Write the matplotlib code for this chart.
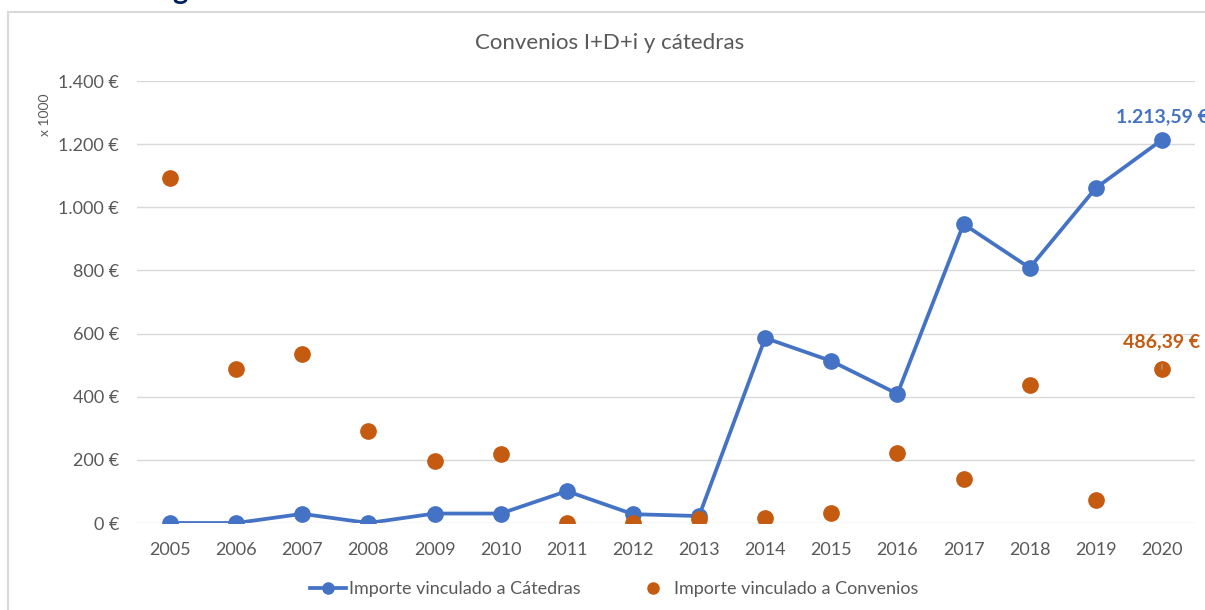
import matplotlib.pyplot as plt
from matplotlib.lines import Line2D
from matplotlib.patches import Rectangle
from matplotlib.ticker import FuncFormatter

years = list(range(2005, 2021))
catedras = [0, 0, 29, 0, 30, 30, 101, 28, 22, 586, 513, 409, 947, 808, 1061, 1213.59]
convenios = [1093, 488, 535, 291, 196, 219, 0, 0, 13, 16, 32, 222, 139, 437, 73, 486.39]

BLUE = '#4472C4'
ORANGE = '#C55A11'
GREY = '#595959'

plt.rcParams['font.family'] = ['Lato', 'DejaVu Sans']

fig = plt.figure(figsize=(12.05, 6.10), dpi=100)
ax = fig.add_axes([137 / 1205, 1 - 523 / 610, (1195 - 137) / 1205, (523 - 81) / 610])

# chart frame (partly cut by the screenshot)
fig.patches.append(Rectangle((8 / 1205, -0.05), 1.1, 1 - 12 / 610 + 0.05, transform=fig.transFigure,
                             fill=False, edgecolor='#D9D9D9', linewidth=1.5))
# descender of a heading cut off above
fig.text(172 / 1205, 1 + 1 / 610, 'g', color='#002060', fontsize=21, fontweight='bold',
         ha='left', va='baseline')

ax.plot(years, catedras, color=BLUE, linewidth=2.7, marker='o', markersize=11, zorder=3)
ax.plot(years, convenios, linestyle='none', color=ORANGE, marker='o', markersize=11, zorder=3)

ax.set_xlim(2004.5, 2020.5)
ax.set_ylim(0, 1400)
ax.set_yticks(range(0, 1401, 200))
ax.set_xticks(years)
ax.yaxis.set_major_formatter(FuncFormatter(lambda v, p: f"{int(v):,} €".replace(',', '.')))
ax.grid(axis='y', color='#D9D9D9', linewidth=1)
ax.set_axisbelow(True)
for s in ax.spines.values():
    s.set_visible(False)
ax.tick_params(axis='both', length=0, labelsize=13, labelcolor=GREY)
ax.tick_params(axis='y', pad=13)
ax.tick_params(axis='x', pad=14)

fig.text(45 / 1205, 1 - 115 / 610, 'x 1000', rotation=90, fontsize=10, color=GREY,
         ha='center', va='center')
fig.text(610 / 1205, 1 - 43 / 610, 'Convenios I+D+i y cátedras', fontsize=16, color=GREY,
         ha='center', va='center')

# data labels for last year
ax.annotate(f"{catedras[-1]:,.2f} €".replace(',', 'X').replace('.', ',').replace('X', '.'),
            (years[-1], catedras[-1]), xytext=(0, 16.5), textcoords='offset points',
            ha='center', va='center', color=BLUE, fontsize=14, fontweight='bold',
            annotation_clip=False)
ax.annotate(f"{convenios[-1]:.2f} €".replace('.', ','),
            (years[-1], convenios[-1]), xytext=(0, 20), textcoords='offset points',
            ha='center', va='center', color=ORANGE, fontsize=14, fontweight='bold',
            arrowprops=dict(arrowstyle='-', color='#A6A6A6', lw=0.8, shrinkA=8, shrinkB=5),
            annotation_clip=False)

handles = [
    Line2D([], [], color=BLUE, linewidth=2.7, marker='o', markersize=8),
    Line2D([], [], color=ORANGE, linestyle='none', marker='o', markersize=8),
]
fig.legend(handles, ['Importe vinculado a Cátedras', 'Importe vinculado a Convenios'],
           loc='center', bbox_to_anchor=(614 / 1205, 1 - 589 / 610), ncol=2, frameon=False,
           fontsize=13, labelcolor=GREY, handlelength=2.0, handletextpad=0.15, columnspacing=3.0)

fig.savefig('out.png', dpi=100)
